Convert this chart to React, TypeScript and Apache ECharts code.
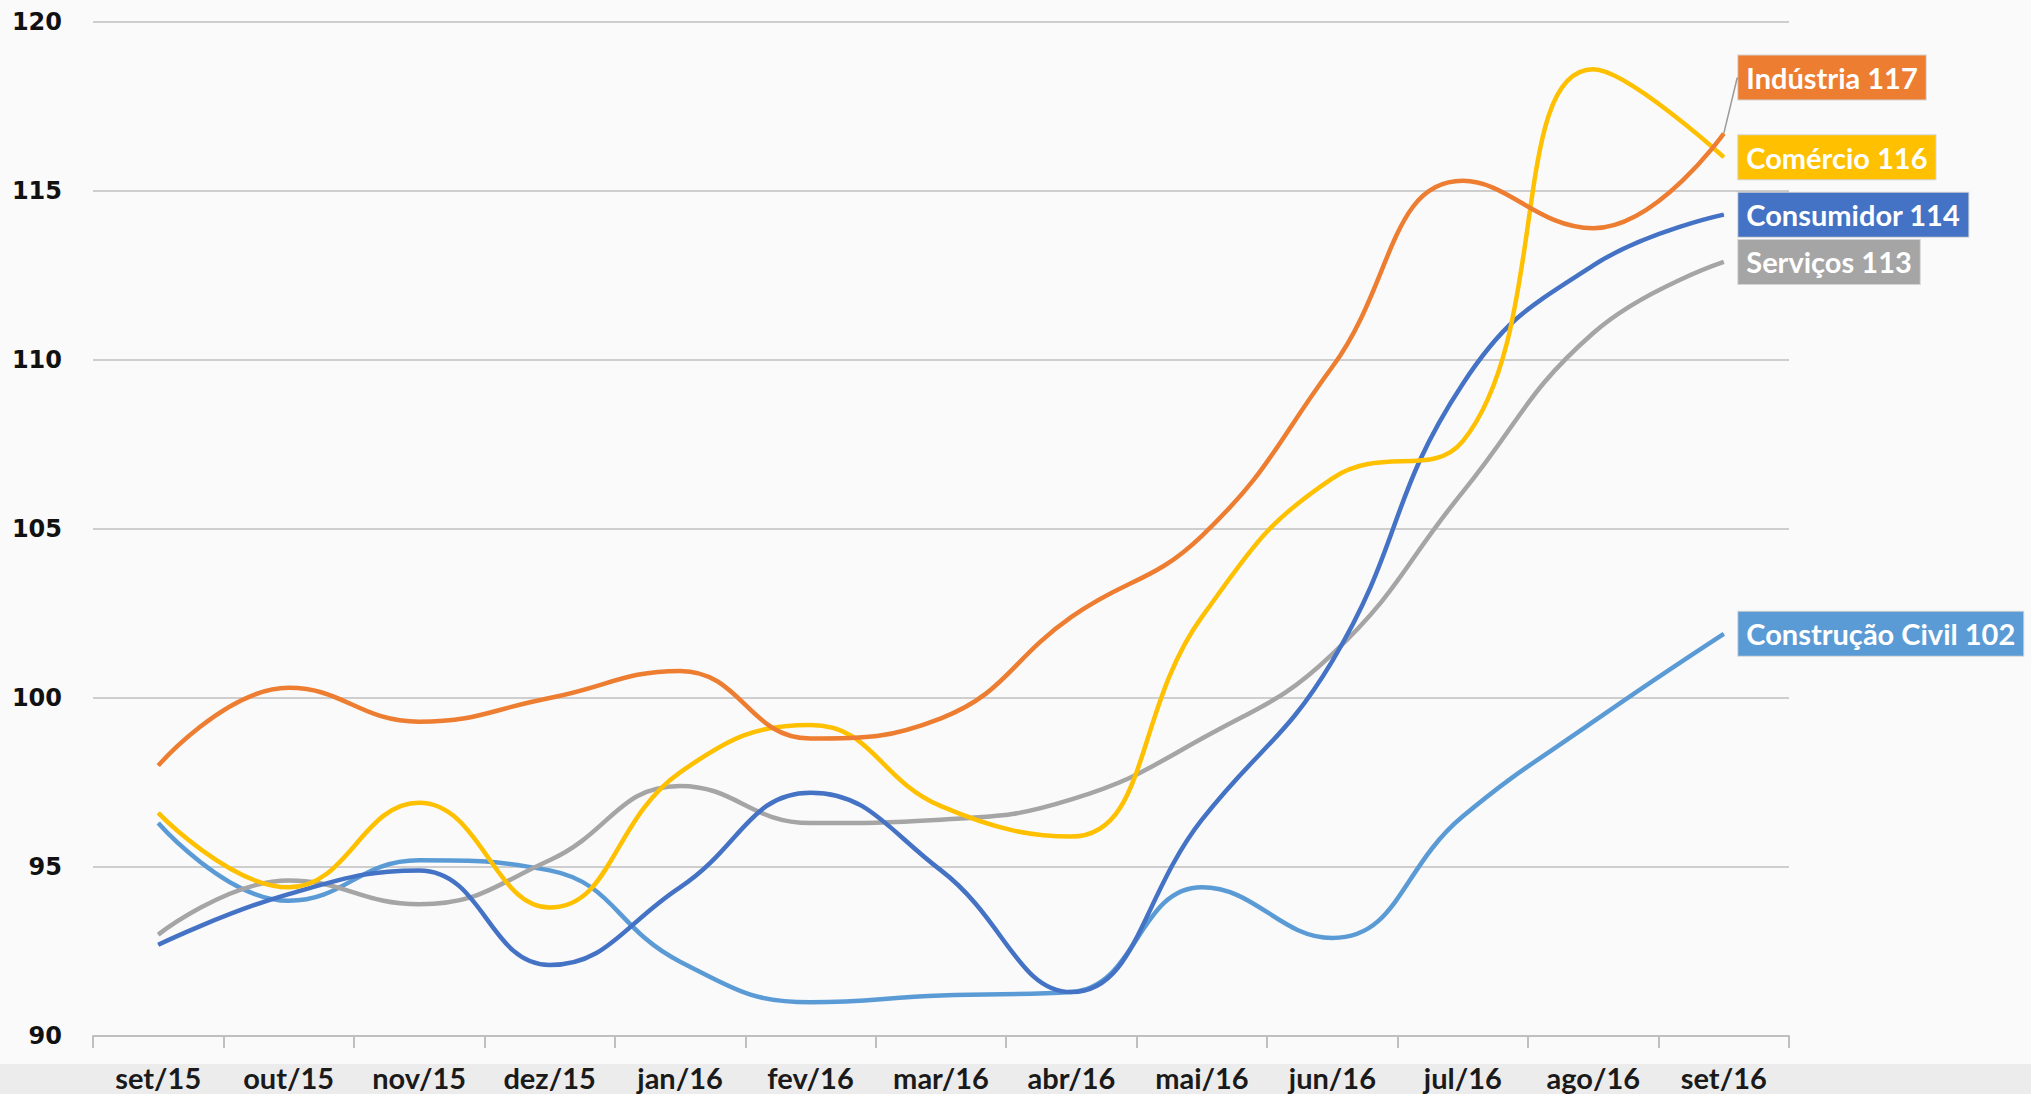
import React, { useEffect, useRef } from "react";
import * as echarts from "echarts";

const categories = ["set/15", "out/15", "nov/15", "dez/15", "jan/16", "fev/16", "mar/16", "abr/16", "mai/16", "jun/16", "jul/16", "ago/16", "set/16"];

const industria = [98.0, 100.3, 99.3, 100.0, 100.8, 98.8, 99.4, 102.4, 104.8, 109.8, 115.3, 113.9, 116.7];
const comercio = [96.6, 94.4, 96.9, 93.8, 97.8, 99.2, 96.8, 95.9, 102.4, 106.5, 107.6, 118.6, 116.0];
const consumidor = [92.7, 94.2, 94.9, 92.1, 94.4, 97.2, 94.9, 91.3, 96.4, 101.1, 109.3, 112.8, 114.3];
const servicos = [93.0, 94.6, 93.9, 95.2, 97.4, 96.3, 96.4, 97.0, 98.8, 101.3, 106.1, 110.8, 112.9];
const construcao = [96.3, 94.0, 95.2, 94.9, 92.2, 91.0, 91.2, 91.3, 94.4, 92.9, 96.5, 99.3, 101.9];

const seriesNames = ["Indústria", "Comércio", "Consumidor", "Serviços", "Construção Civil"];
const endLabelValues = [117, 116, 114, 113, 102];
const seriesColors = ["#ED7D31", "#FFC000", "#4472C4", "#A5A5A5", "#5B9BD5"];
const yTicks = [90, 95, 100, 105, 110, 115, 120];

export default function App() {
  const ref = useRef<HTMLDivElement>(null);
  useEffect(() => {
    document.body.style.margin = "0";
    const chart = echarts.init(ref.current!, null, { renderer: "svg" });
    const allData = [industria, comercio, consumidor, servicos, construcao];
    const series = allData.map((d, si) => ({
      type: "line",
      name: seriesNames[si],
      smooth: 0.45,
      symbol: "circle",
      symbolSize: 1,
      showSymbol: true,
      itemStyle: { color: seriesColors[si] },
      lineStyle: { color: seriesColors[si], width: 4.5 },
      emphasis: { disabled: true },
      z: 10 - si,
      data: d.map((v, i) =>
        i === d.length - 1
          ? {
              value: v,
              label: {
                show: true,
                position: "right",
                distance: 14,
                formatter: seriesNames[si] + " " + endLabelValues[si],
                backgroundColor: seriesColors[si],
                borderColor: "rgba(0,0,0,0.15)",
                borderWidth: 1,
                color: "#FFFFFF",
                fontFamily: "Lato",
                fontWeight: "bold",
                fontSize: 29,
                lineHeight: 31,
                padding: [7, 8, 6, 8],
              },
            }
          : v
      ),
      labelLayout: si === 0 ? { dy: -56 } : undefined,
      labelLine: si === 0 ? { show: true, lineStyle: { color: "#9A9A9A", width: 1.5 } } : undefined,
    }));

    chart.setOption({
      animation: false,
      backgroundColor: "#FAFAFA",
      graphic: [
        {
          type: "rect",
          left: 0,
          bottom: 0,
          shape: { width: 2031, height: 30 },
          style: { fill: "#ECECEC" },
          z: -10,
        },
      ],
      grid: { left: 93, right: 242, top: 22, bottom: 58, containLabel: false },
      xAxis: {
        type: "category",
        data: categories,
        boundaryGap: true,
        axisLine: { lineStyle: { color: "#BFBFBF", width: 2 } },
        axisTick: { show: true, length: 12, lineStyle: { color: "#BFBFBF", width: 2 } },
        axisLabel: {
          color: "#1A1A1A",
          fontFamily: "Lato",
          fontWeight: "bold",
          fontSize: 29,
          margin: 27,
        },
      },
      yAxis: {
        type: "value",
        min: yTicks[0],
        max: yTicks[yTicks.length - 1],
        interval: 5,
        axisLine: { show: false },
        axisTick: { show: false },
        splitLine: { lineStyle: { color: "#BFBFBF", width: 1.5 } },
        axisLabel: {
          color: "#111111",
          fontFamily: "DejaVu Sans",
          fontWeight: "bold",
          fontSize: 24,
          margin: 31,
        },
      },
      series,
    });
    return () => chart.dispose();
  }, []);
  return <div ref={ref} style={{ width: 2031, height: 1094, position: "absolute", left: 0, top: 0 }} />;
}
